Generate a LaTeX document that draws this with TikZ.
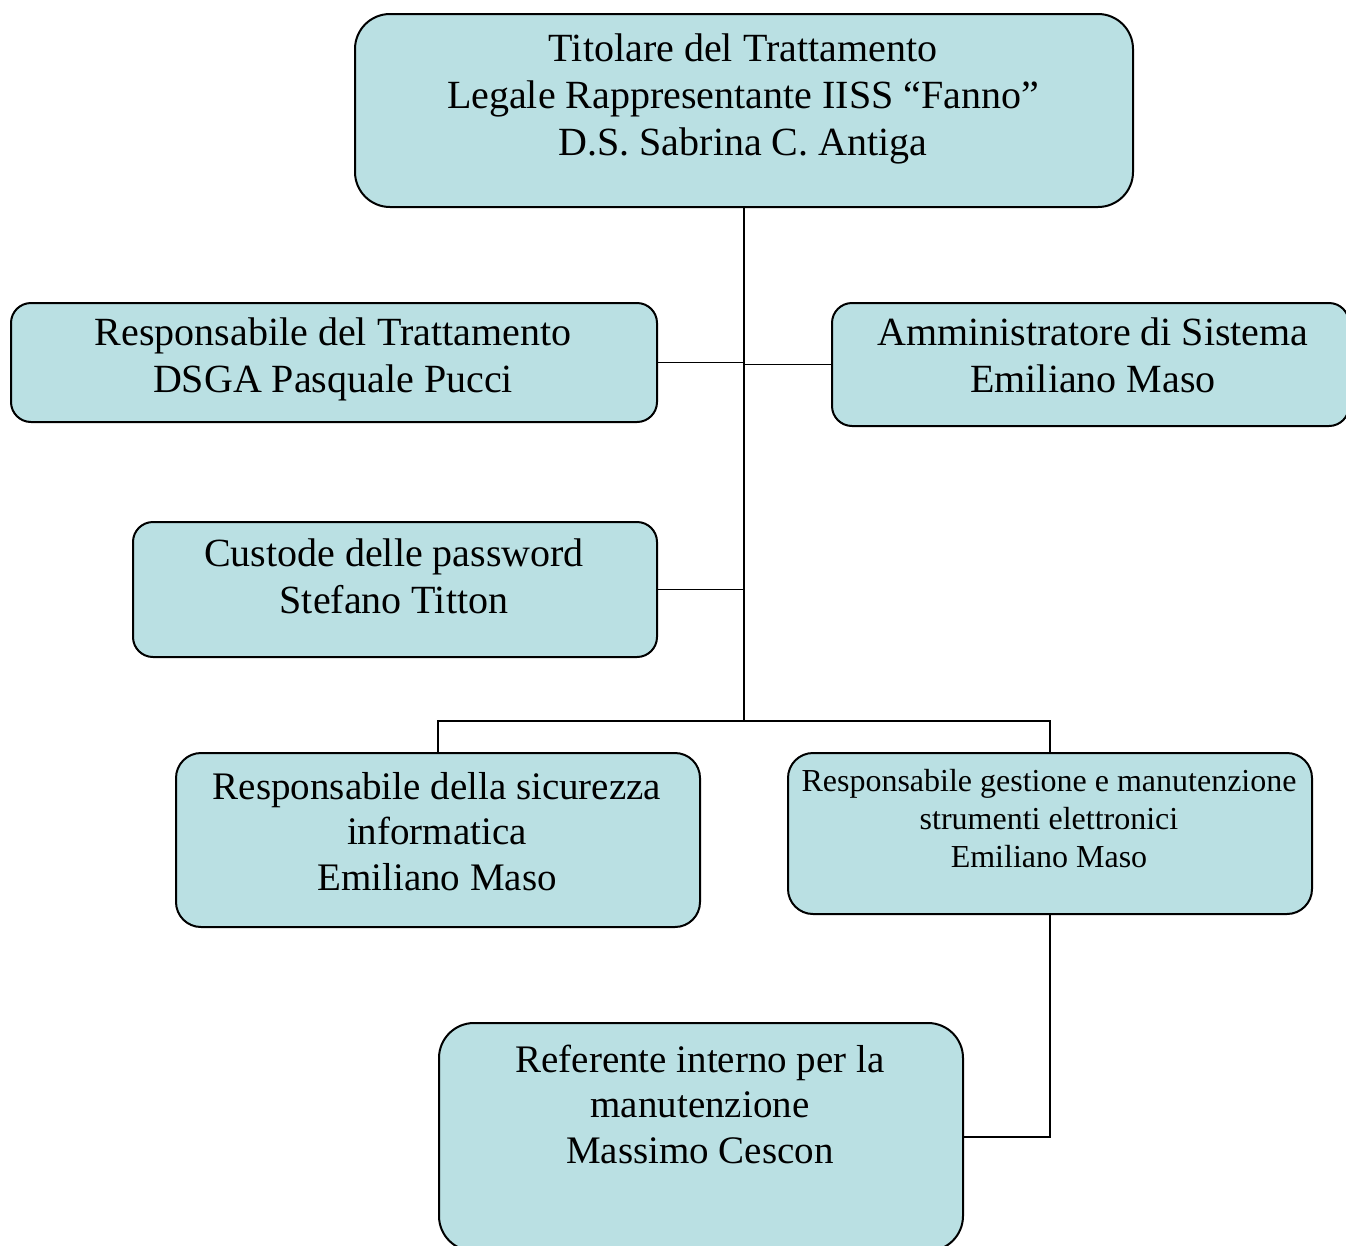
\documentclass[tikz,border=0pt]{standalone}
\usepackage{fontspec}
\setmainfont{Liberation Serif}
\definecolor{boxfill}{RGB}{186,224,227}
\begin{document}
\begin{tikzpicture}[x=1pt,y=-1pt,
  box/.style={draw=black,line width=2pt,fill=boxfill,inner sep=0pt,anchor=north west},
  txtbig/.style={inner sep=0pt,anchor=base,font=\fontsize{40}{47}\selectfont},
  txtmid/.style={inner sep=0pt,anchor=base,font=\fontsize{39}{45.5}\selectfont},
  txtsmall/.style={inner sep=0pt,anchor=base,font=\fontsize{32}{38}\selectfont},
  link/.style={draw=black,line width=1.3pt}]
\useasboundingbox (0,0) rectangle (1346,1245);
\clip (0,0) rectangle (1346,1245);
% boxes
\node[box,rounded corners=35pt,minimum width=778pt,minimum height=193pt] (top) at (354,13) {};
\node[box,rounded corners=20pt,minimum width=646pt,minimum height=119pt] (resp) at (10,302) {};
\node[box,rounded corners=20pt,minimum width=517pt,minimum height=123pt] (amm) at (831,302) {};
\node[box,rounded corners=20pt,minimum width=524pt,minimum height=135pt] (cust) at (132,521) {};
\node[box,rounded corners=25pt,minimum width=524pt,minimum height=174pt] (sic) at (175,752) {};
\node[box,rounded corners=25pt,minimum width=524pt,minimum height=161pt] (man) at (787,752) {};
\node[box,rounded corners=35pt,minimum width=524pt,minimum height=228pt] (ref) at (438,1022) {};
% texts
\node[txtbig] (ttop) at (743,61) {\begin{tabular}[t]{@{}c@{}}Titolare del Trattamento\\Legale Rappresentante IISS “Fanno”\\D.S. Sabrina C. Antiga\end{tabular}};
\node[txtbig] (tresp) at (333,345) {\begin{tabular}[t]{@{}c@{}}Responsabile del Trattamento\\DSGA Pasquale Pucci\end{tabular}};
\node[txtbig] (tamm) at (1093,345) {\begin{tabular}[t]{@{}c@{}}Amministratore di Sistema\\Emiliano Maso\end{tabular}};
\node[txtbig] (tcust) at (394,566) {\begin{tabular}[t]{@{}c@{}}Custode delle password\\Stefano Titton\end{tabular}};
\node[txtmid] (tsic) at (437,799) {\begin{tabular}[t]{@{}c@{}}Responsabile della sicurezza\\informatica\\Emiliano Maso\end{tabular}};
\node[txtsmall] (tman) at (1049,791) {\begin{tabular}[t]{@{}c@{}}Responsabile gestione e manutenzione\\strumenti elettronici\\Emiliano Maso\end{tabular}};
\node[txtmid] (tref) at (700,1072) {\begin{tabular}[t]{@{}c@{}}Referente interno per la\\manutenzione\\Massimo Cescon\end{tabular}};
% connectors
\coordinate (j) at (top.south |- {(0,721)});
\draw[link] (top.south) -- (j);
\draw[link] (resp.east) -- (resp.east -| top.south);
\draw[link] (amm.west) -- (amm.west -| top.south);
\draw[link] (cust.east) -- (cust.east -| top.south);
\draw[link] (sic.north) |- (j) -| (man.north);
\draw[link] (man.south) |- (ref.east);
\end{tikzpicture}
\end{document}
